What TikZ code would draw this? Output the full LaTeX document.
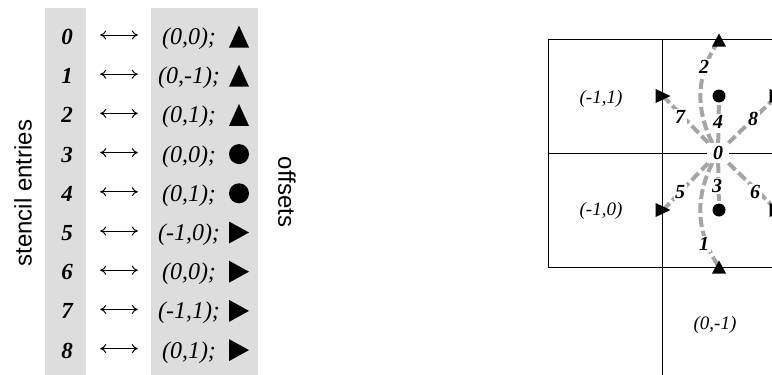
\documentclass[tikz,border=0pt]{standalone}
\usepackage{fontspec}
\setmainfont{Liberation Serif}
\setsansfont{Liberation Sans}
\usetikzlibrary{arrows.meta}
\definecolor{panelgray}{RGB}{221,221,221}
\definecolor{linegray}{RGB}{165,165,165}
\newcommand\MkUp[4]{\fill (#1-#3/2,#2+#4/2) -- (#1+#3/2,#2+#4/2) -- (#1,#2-#4/2) -- cycle;}
\newcommand\MkRight[4]{\fill (#1-#3/2,#2-#4/2) -- (#1-#3/2,#2+#4/2) -- (#1+#3/2,#2) -- cycle;}
\newcommand\MkDot[4]{\fill (#1,#2) circle[radius=#3/2];}
\tikzset{
  entry/.style={font=\fontsize{23}{28}\selectfont\bfseries\itshape, minimum width=40pt, inner sep=0pt, text height=19pt, text depth=0pt},
  offs/.style={font=\fontsize{24}{28}\selectfont\itshape, minimum width=64pt, inner sep=0pt, text height=19pt, text depth=0pt},
  dbl/.style={{To[length=6pt,width=9pt]}-{To[length=6pt,width=9pt]}, line width=1pt, shorten <=13pt, shorten >=19pt},
  side/.style={font=\sffamily\fontsize{24}{28}\selectfont},
  gridline/.style={draw=black, line width=0.9pt},
  link/.style={draw=linegray, line width=4pt, dash pattern=on 10pt off 4pt},
  lab/.style={font=\fontsize{20}{22}\selectfont\bfseries\itshape, fill=white, inner sep=1.5pt},
  cell/.style={font=\fontsize{19}{22}\selectfont\itshape}
}
\begin{document}
\begin{tikzpicture}[x=1pt,y=-1pt]
\useasboundingbox (0,0) rectangle (772,375);
\clip (0,0) rectangle (772,375);
% left panel
\fill[panelgray] (45,8) rectangle (86,375);
\fill[panelgray] (151,8) rectangle (258,375);
\foreach \i/\t/\m in {0/{(0,0);}/\MkUp, 1/{(0,-1);}/\MkUp, 2/{(0,1);}/\MkUp, 3/{(0,0);}/\MkDot, 4/{(0,1);}/\MkDot, 5/{(-1,0);}/\MkRight, 6/{(0,0);}/\MkRight, 7/{(-1,1);}/\MkRight, 8/{(0,1);}/\MkRight}{
  \pgfmathsetmacro{\yb}{44.5+39.2*\i}
  \pgfmathsetmacro{\yc}{\yb-8}
  \node[entry, anchor=base] (e\i) at (67,\yb) {\i};
  \node[offs, anchor=base] (o\i) at (189,\yb) {\t};
  \draw[dbl] (e\i) -- (o\i);
  \ifx\m\MkDot \m{239}{\yc}{18}{18}\else\ifx\m\MkUp \m{239}{\yc+1}{19}{15}\else \m{239}{\yc}{20}{22}\fi\fi
}
\node[side, rotate=90] (se) at (23,193) {stencil entries};
\node[side, rotate=-90] (of) at (287,192) {offsets};
% grid
\draw[gridline] (548,39) -- (800,39);
\draw[gridline] (548,153) -- (800,153);
\draw[gridline] (548,267) -- (800,267);
\draw[gridline] (548,39) -- (548,267);
\draw[gridline] (662,39) -- (662,400);
\node[cell] (c11) at (601,99) {(-1,1)};
\node[cell] (c10) at (601,211) {(-1,0)};
\node[cell] (c01) at (715,325) {(0,-1)};
\coordinate (t2) at (719,40);
\coordinate (t1) at (719,267);
\coordinate (d4) at (719,96);
\coordinate (d3) at (719,210);
\coordinate (t7) at (663,96);
\coordinate (t5) at (663,210);
\coordinate (t8) at (777,96);
\coordinate (t6) at (777,210);
\node[lab, inner xsep=6pt, inner ysep=3pt] (c0) at (718,153) {0};
\draw[link] (c0) to[bend left=30] (t2);
\draw[link] (c0) to[bend right=30] (t1);
\draw[link] (c0) -- (d4);
\draw[link] (c0) -- (d3);
\draw[link] (c0) -- (t7);
\draw[link] (c0) -- (t5);
\draw[link] (c0) -- (t8);
\draw[link] (c0) -- (t6);
\MkUp{719}{40}{14}{13}
\MkUp{719}{267}{14}{13}
\MkDot{719}{96}{13}{0}
\MkDot{719}{210}{13}{0}
\MkRight{663}{96}{15}{14}
\MkRight{663}{210}{15}{14}
\MkRight{777}{96}{15}{14}
\MkRight{777}{210}{15}{14}
\node[lab, inner xsep=6pt, inner ysep=3pt] (c0b) at (c0) {0};
\node[lab] (l2) at (704,67) {2};
\node[lab] (l1) at (704,244) {1};
\node[lab] (l4) at (718,122) {4};
\node[lab] (l3) at (717,186) {3};
\node[lab] (l7) at (680,117) {7};
\node[lab] (l8) at (753,119) {8};
\node[lab] (l5) at (680,192) {5};
\node[lab] (l6) at (755,192) {6};
\end{tikzpicture}
\end{document}
